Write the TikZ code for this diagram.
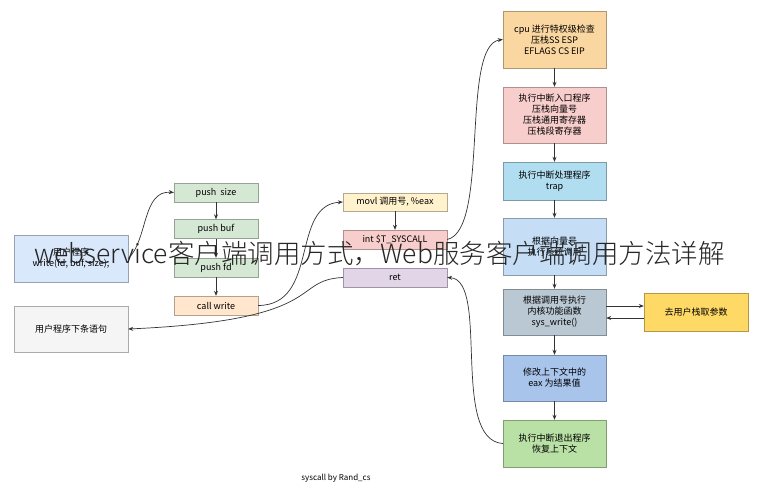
\documentclass[tikz,border=0pt]{standalone}
\usepackage{fontspec}
\setmainfont{Noto Sans CJK SC}
\newfontfamily\wmfont{Noto Sans CJK SC Light}
\usetikzlibrary{arrows.meta}
\begin{document}
\begin{tikzpicture}[x=1pt,y=-1pt,
 bx/.style={draw=#1!70!black, fill=#1, inner sep=0pt, font=\fontsize{9}{11}\selectfont, align=center},
 ar/.style={-{Stealth[length=5pt,width=4pt]}, draw=black!80, line width=0.7pt}]
\useasboundingbox[fill=white] (0,0) rectangle (763,490);
\definecolor{cb}{HTML}{DAE8FC}\definecolor{cg}{HTML}{F5F5F5}
\definecolor{cgr}{HTML}{D5E8D4}\definecolor{co}{HTML}{FFE6CC}
\definecolor{cy}{HTML}{FFF2CC}\definecolor{cp}{HTML}{F8CECC}
\definecolor{cv}{HTML}{E1D5E7}\definecolor{co2}{HTML}{FAD7A0}
\definecolor{cpk}{HTML}{F8CECC}\definecolor{ccy}{HTML}{B1DDF0}
\definecolor{clb}{HTML}{C5DDF5}\definecolor{csl}{HTML}{BAC8D3}
\definecolor{cbl}{HTML}{A9C4EB}\definecolor{cgn}{HTML}{B9E0A5}
\definecolor{cyl}{HTML}{FFD966}
\node[bx=cb, minimum width=114, minimum height=47] (u) at (71,258.5) {用户程序\\write(fd, buf, size);};
\node[bx=cg, minimum width=114, minimum height=46] (n) at (71,329) {用户程序下条语句};
\node[bx=cgr, minimum width=84, minimum height=19] (ps) at (216,192.5) {push\ \ size};
\node[bx=cgr, minimum width=84, minimum height=19] (pb) at (216,229) {push buf};
\node[bx=cgr, minimum width=84, minimum height=19] (pf) at (216,267.5) {push fd};
\node[bx=co, minimum width=84, minimum height=19] (cw) at (216,305.5) {call write};
\node[bx=cy, minimum width=104, minimum height=18] (mv) at (395,202) {movl 调用号, \%eax};
\node[bx=cp, minimum width=104, minimum height=19] (it) at (395,239.5) {int \$T\_SYSCALL};
\node[bx=cv, minimum width=104, minimum height=19] (rt) at (395,277.5) {ret};
\node[bx=co2, minimum width=103, minimum height=57] (c1) at (554.5,39.5) {cpu 进行特权级检查\\压栈SS ESP\\EFLAGS CS EIP};
\node[bx=cpk, minimum width=103, minimum height=56] (c2) at (554.5,115) {执行中断入口程序\\压栈向量号\\压栈通用寄存器\\压栈段寄存器};
\node[bx=ccy, minimum width=103, minimum height=38] (c3) at (554.5,181) {执行中断处理程序\\trap};
\node[bx=clb, minimum width=103, minimum height=57] (c4) at (554.5,246.5) {根据向量号\\执行系统调用};
\node[bx=csl, minimum width=103, minimum height=46] (c5) at (554.5,312) {根据调用号执行\\内核功能函数\\sys\_write()};
\node[bx=cbl, minimum width=103, minimum height=46] (c6) at (554.5,378) {修改上下文中的\\eax 为结果值};
\node[bx=cgn, minimum width=103, minimum height=47] (c7) at (554.5,443.5) {执行中断退出程序\\恢复上下文};
\node[bx=cyl, minimum width=104, minimum height=38] (k) at (696,312) {去用户栈取参数};
\node[font=\fontsize{8}{10}\selectfont] (cap) at (336,478) {syscall by Rand\_cs};
\draw[ar] (ps) -- (pb); \draw[ar] (pb) -- (pf); \draw[ar] (pf) -- (cw);
\draw[ar] (mv) -- (it);
\foreach \a/\b in {c1/c2,c2/c3,c3/c4,c4/c5,c5/c6,c6/c7} \draw[ar] (\a) -- (\b);
\draw[ar] ([yshift=6]c5.east) -- ([yshift=6]k.west);
\draw[ar] ([yshift=-6]k.west) -- ([yshift=-6]c5.east);
\draw[ar] (u.east) .. controls (148,240) and (142,190) .. (ps.west);
\draw[ar] (cw.east) .. controls (320,305) and (290,205) .. (mv.west);
\draw[ar] (it.east) .. controls (490,230) and (460,45) .. (c1.west);
\draw[ar] (c7.west) .. controls (450,440) and (490,280) .. (rt.east);
\draw[ar] (rt.west) .. controls (290,280) and (330,320) .. (n.east);
\node[font=\wmfont\fontsize{26.5}{28}\selectfont, text=black!85, anchor=west, inner sep=0] (wm) at (34,254) {webservice客户端调用方式，Web服务客户端调用方法详解};
\end{tikzpicture}
\end{document}
